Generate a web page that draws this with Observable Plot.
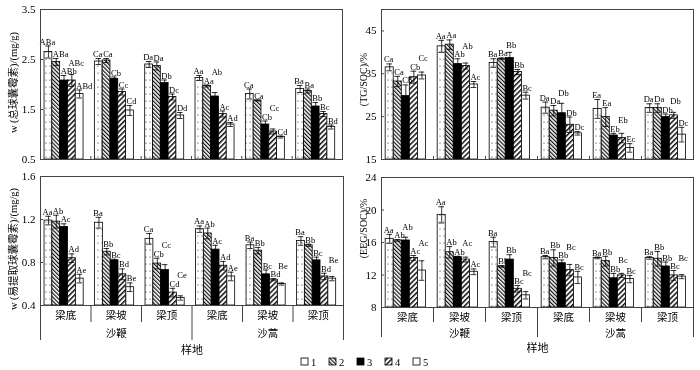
<!DOCTYPE html>
<html><head><meta charset="utf-8">
<script src="https://cdn.jsdelivr.net/npm/d3@7"></script>
<script src="https://cdn.jsdelivr.net/npm/@observablehq/plot@0.6"></script>
<style>
html,body{margin:0;padding:0;background:#fff;}
#root{position:relative;width:700px;height:370px;overflow:hidden;font-family:"Liberation Serif","Noto Sans CJK SC",serif;filter:grayscale(100%);}
#root svg text{font-family:"Liberation Serif","Noto Sans CJK SC",serif;}
.panel{position:absolute;}
</style></head><body>
<div id="root">
<svg width="0" height="0" style="position:absolute">
<defs>
<pattern id="pat1" patternUnits="userSpaceOnUse" width="4" height="7"><rect width="4" height="7" fill="#fff"/><circle cx="2" cy="3" r="0.6" fill="#222"/></pattern>
<pattern id="pat2" patternUnits="userSpaceOnUse" width="2.8" height="2.8" patternTransform="rotate(-45)"><rect width="2.8" height="2.8" fill="#fff"/><rect width="1.2" height="2.8" fill="#111"/></pattern>
<pattern id="pat4" patternUnits="userSpaceOnUse" width="3.6" height="3.6" patternTransform="rotate(45)"><rect width="3.6" height="3.6" fill="#fff"/><rect width="1.5" height="3.6" fill="#111"/></pattern>
</defs></svg>
</div>
<script>
// ---------- data ----------
const groups = ["梁底","梁坡","梁顶","梁底","梁坡","梁顶"];
const species = ["沙鞭","沙蒿"];
const seriesNames = ["1","2","3","4","5"];

const tgMean = [
  [2.65,2.45,2.08,2.08,1.81],
  [2.46,2.48,2.11,1.85,1.48],
  [2.40,2.37,2.03,1.75,1.38],
  [2.13,1.97,1.76,1.41,1.20],
  [1.81,1.68,1.20,1.06,0.95],
  [1.91,1.87,1.56,1.41,1.15]];
const tgErr = [
  [0.12,0.07,0.10,0.12,0.08],
  [0.06,0.04,0.04,0.06,0.10],
  [0.06,0.08,0.06,0.06,0.06],
  [0.05,0.02,0.08,0.06,0.04],
  [0.10,0.01,0.07,0.05,0.02],
  [0.07,0.04,0.08,0.05,0.04]];
const tgLab = [
  ["ABa","ABa","ABb","ABc","ABd"],
  ["Ca","Ca","Cb","Cc","Cd"],
  ["Da","Da","Db","Dc","Dd"],
  ["Aa","Aa","Ab","Ac","Ad"],
  ["Ca","Ca","Cb","Cc","Cd"],
  ["Ba","Ba","Bb","Bc","Bd"]];

const tgSocMean = [
  [36.5,33.2,29.8,34.2,34.6],
  [41.4,41.8,37.3,36.8,32.5],
  [37.5,38.5,38.7,35.4,29.9],
  [27.1,26.4,25.8,23.1,21.1],
  [26.8,24.9,20.6,20.0,17.7],
  [27.0,27.0,24.9,25.3,20.8]];
const tgSocErr = [
  [0.8,1.2,2.6,1.4,0.8],
  [1.4,1.1,1.2,0.7,0.7],
  [1.0,0.2,1.3,0.6,0.8],
  [1.3,1.2,2.3,1.8,0.4],
  [2.2,2.2,0.5,1.1,1.0],
  [1.0,1.0,0.7,0.7,1.7]];
const tgSocLab = [
  ["Ca","Ca","Cb","Cb","Cc"],
  ["Aa","Aa","Ab","Ab","Ac"],
  ["Ba","Ba","Bb","Bb","Bc"],
  ["Da","Da","Db","Db","Dc"],
  ["Ea","Ea","Eb","Eb","Ec"],
  ["Da","Da","Db","Db","Dc"]];

const eegMean = [
  [1.19,1.18,1.13,0.84,0.65],
  [1.17,0.90,0.82,0.69,0.57],
  [1.02,0.79,0.73,0.52,0.47],
  [1.11,1.07,0.92,0.77,0.67],
  [0.96,0.91,0.69,0.64,0.60],
  [1.00,0.96,0.82,0.67,0.65]];
const eegErr = [
  [0.04,0.06,0.03,0.04,0.04],
  [0.05,0.03,0.01,0.05,0.04],
  [0.05,0.05,0.05,0.04,0.02],
  [0.03,0.05,0.04,0.04,0.04],
  [0.03,0.03,0.04,0.01,0.01],
  [0.04,0.01,0.03,0.03,0.02]];
const eegLab = [
  ["Aa","Ab","Ac","Ad","Ae"],
  ["Ba","Bb","Bc","Bd","Be"],
  ["Ca","Cb","Cc","Cd","Ce"],
  ["Aa","Ab","Ac","Ad","Ae"],
  ["Ba","Bb","Bc","Bd","Be"],
  ["Ba","Bb","Bc","Bd","Be"]];

const eegSocMean = [
  [16.45,16.25,16.25,14.1,12.55],
  [19.4,14.8,14.2,13.9,12.4],
  [16.05,13.05,13.9,10.3,9.5],
  [14.2,14.1,13.45,12.6,11.7],
  [14.1,13.7,11.6,11.95,11.5],
  [14.1,14.0,13.05,11.95,11.8]];
const eegSocErr = [
  [0.55,0.1,0.4,0.3,1.2],
  [1.0,0.7,0.1,0.3,0.35],
  [0.6,0.1,0.6,0.4,0.45],
  [0.2,1.0,0.4,0.7,0.75],
  [0.1,0.6,0.6,0.25,0.45],
  [0.15,0.9,0.55,0.6,0.25]];
const eegSocLab = [
  ["Aa","Ab","Ab","Ac","Ac"],
  ["Aa","Ab","Ab","Ac","Ac"],
  ["Ba","Bb","Bb","Bc","Bc"],
  ["Ba","Bb","Bb","Bc","Bc"],
  ["Ba","Bb","Bb","Bc","Bc"],
  ["Ba","Bb","Bb","Bc","Bc"]];

const ticksTG = [0.5,1.5,2.5,3.5];
const ticksTGSOC = [15,25,35,45];
const ticksEEG = [0.4,0.8,1.2,1.6];
const ticksEEGSOC = [8,12,16,20,24];

// ---------- drawing ----------
const fills = ["url(#pat1)","url(#pat2)","#000","url(#pat4)","#fff"];
const FONT = '"Liberation Serif","Noto Sans CJK SC",serif';
const OFF = 0.08, BW = 0.155, CAP = 0.055;
const LAB_FS = 8.5, LAB_H = 8.5;
const ctx = document.createElement("canvas").getContext("2d");
ctx.font = LAB_FS + 'px "Liberation Serif"';

function panel(o) {
  const frameW = o.width - o.ml - o.mr;
  const frameH = o.height - o.mt - o.mb;
  const [y0, y1] = o.domain;
  const px = x => o.ml + x / 6 * frameW;
  const py = v => o.mt + (y1 - v) / (y1 - y0) * frameH;
  const inv = p => y1 - (p - o.mt) / frameH * (y1 - y0);
  const rows = [];
  o.mean.forEach((arr, g) => {
    const placed = [];
    arr.forEach((v, s) => {
      const x1 = g + OFF + s * BW;
      const e = o.err[g][s];
      const lab = o.labs[g][s];
      const xc = x1 + BW / 2;
      const w = ctx.measureText(lab).width;
      const lx = s === 0 ? xc - 0.02 : x1 + 0.01;
      const bx0 = s === 0 ? px(lx) - w / 2 : px(lx);
      const box = {x0: bx0, x1: bx0 + w, b: py(v + e) - 1.5};
      box.t = box.b - LAB_H;
      for (let iter = 0; iter < 20; iter++) {
        let moved = false;
        for (const p of placed) {
          if (box.x0 < p.x1 - 0.8 && box.x1 > p.x0 + 0.8 && box.t < p.b - 0.01 && box.b > p.t + 0.01) {
            box.b = p.t; box.t = box.b - LAB_H; moved = true;
          }
        }
        if (!moved) break;
      }
      placed.push(box);
      rows.push({g, s, v, e, lab, x1, x2: x1 + BW, xc, lx, ly: inv(box.b)});
    });
  });
  const marks = [];
  seriesNames.forEach((sn, i) => {
    marks.push(Plot.rect(rows.filter(r => r.s === i), {
      x1: "x1", x2: "x2", y1: () => y0, y2: "v",
      fill: fills[i], stroke: "#000", strokeWidth: 0.8
    }));
  });
  marks.push(
    Plot.ruleX(rows, {x: "xc", y1: d => d.v - d.e, y2: d => d.v + d.e, stroke: "#000", strokeWidth: 0.8}),
    Plot.ruleY(rows, {y: d => d.v + d.e, x1: d => d.xc - CAP, x2: d => d.xc + CAP, stroke: "#000", strokeWidth: 0.8}),
    Plot.ruleY(rows, {y: d => d.v - d.e, x1: d => d.xc - CAP, x2: d => d.xc + CAP, stroke: "#000", strokeWidth: 0.8}),
    Plot.text(rows.filter(r => r.s === 0), {x: "lx", y: "ly", text: "lab", lineAnchor: "bottom", fontSize: LAB_FS, fill: "#000"}),
    Plot.text(rows.filter(r => r.s > 0), {x: "lx", y: "ly", text: "lab", textAnchor: "start", lineAnchor: "bottom", fontSize: LAB_FS, fill: "#000"}),
    Plot.frame({stroke: "#444", strokeWidth: 1}),
    Plot.axisY(o.ticks, {anchor: "left", tickSize: 0, tickPadding: 5, fontSize: 11, label: null}),
    Plot.tickY(o.ticks, {y: d => d, insetRight: frameW - 3, stroke: "#444"}),
    Plot.text([o.title], {frameAnchor: "left", textAnchor: "middle", lineAnchor: "middle", text: d => d, rotate: -90, dx: o.titleDx, dy: o.titleDy, fontSize: o.titleFs, fill: "#000"})
  );
  if (!o.cats) {
    marks.push(Plot.tickX([1,2,3,4,5], {x: d => d, insetTop: frameH - 3, stroke: "#444"}));
  } else {
    marks.push(
      Plot.ruleX([1,2,4,5], {x: d => d, insetTop: frameH, insetBottom: -o.sepShort, stroke: "#444"}),
      Plot.ruleX([0,3,6], {x: d => d, insetTop: frameH, insetBottom: -o.sepLong, stroke: "#444"}),
      Plot.text(groups.map((t, i) => ({t, x: i + 0.5})), {x: "x", y: () => y0, text: "t", dy: o.catDy[0], fontSize: 10.5, fill: "#000"}),
      Plot.text(species.map((t, i) => ({t, x: i * 3 + 1.5})), {x: "x", y: () => y0, text: "t", dy: o.catDy[1], fontSize: 10.5, fill: "#000"}),
      Plot.text(["样地"], {x: () => 3, y: () => y0, text: d => d, dy: o.catDy[2], fontSize: 11, fill: "#000"})
    );
  }
  const chart = Plot.plot({
    width: o.width, height: o.height,
    marginLeft: o.ml, marginRight: o.mr, marginTop: o.mt, marginBottom: o.mb,
    x: {domain: [0, 6], axis: null},
    y: {domain: o.domain, axis: null},
    style: {fontFamily: FONT, fontSize: "10px", overflow: "visible", background: "none", color: "#000"},
    marks
  });
  const div = document.createElement("div");
  div.className = "panel";
  div.style.left = o.left + "px";
  div.style.top = o.top + "px";
  div.appendChild(chart);
  document.getElementById("root").appendChild(div);
}

panel({left: 0, top: 0, width: 350, height: 170, ml: 40, mr: 8, mt: 9, mb: 11,
  domain: [0.5, 3.5], ticks: ticksTG, mean: tgMean, err: tgErr, labs: tgLab,
  title: "w (总球囊霉素)/(mg/g)", titleDx: -27, titleDy: -2, titleFs: 10.5, cats: false});
panel({left: 350, top: 0, width: 350, height: 170, ml: 31, mr: 7, mt: 9, mb: 11,
  domain: [15, 50], ticks: ticksTGSOC, mean: tgSocMean, err: tgSocErr, labs: tgSocLab,
  title: "(TG/SOC)/%", titleDx: -18, titleDy: -5, titleFs: 10, cats: false});
panel({left: 0, top: 170, width: 350, height: 185, ml: 40, mr: 7, mt: 6, mb: 50,
  domain: [0.4, 1.6], ticks: ticksEEG, mean: eegMean, err: eegErr, labs: eegLab,
  title: "w (易提取球囊霉素)/(mg/g)", titleDx: -27, titleDy: 8, titleFs: 10.5, cats: true,
  sepShort: 17, sepLong: 35, catDy: [10, 28, 45]});
panel({left: 350, top: 170, width: 350, height: 185, ml: 31, mr: 7, mt: 7, mb: 48,
  domain: [8, 24], ticks: ticksEEGSOC, mean: eegSocMean, err: eegSocErr, labs: eegSocLab,
  title: "(EEG/SOC)/%", titleDx: -18, titleDy: -14, titleFs: 10, cats: true,
  sepShort: 15, sepLong: 30, catDy: [10, 26, 41]});

// ---------- legend ----------
(function legend() {
  const ns = "http://www.w3.org/2000/svg";
  const svg = document.createElementNS(ns, "svg");
  svg.setAttribute("width", 140); svg.setAttribute("height", 14);
  svg.style.position = "absolute"; svg.style.left = "298px"; svg.style.top = "355px";
  svg.style.overflow = "visible";
  seriesNames.forEach((s, i) => {
    const x = 3 + i * 28;
    const r = document.createElementNS(ns, "rect");
    r.setAttribute("x", x); r.setAttribute("y", 3); r.setAttribute("width", 7); r.setAttribute("height", 7);
    r.setAttribute("fill", fills[i]); r.setAttribute("stroke", "#000"); r.setAttribute("stroke-width", 0.8);
    svg.appendChild(r);
    const t = document.createElementNS(ns, "text");
    t.setAttribute("x", x + 10); t.setAttribute("y", 10.5);
    t.setAttribute("font-size", 10.5); t.setAttribute("font-family", FONT);
    t.textContent = s;
    svg.appendChild(t);
  });
  document.getElementById("root").appendChild(svg);
})();
</script>
</body></html>
